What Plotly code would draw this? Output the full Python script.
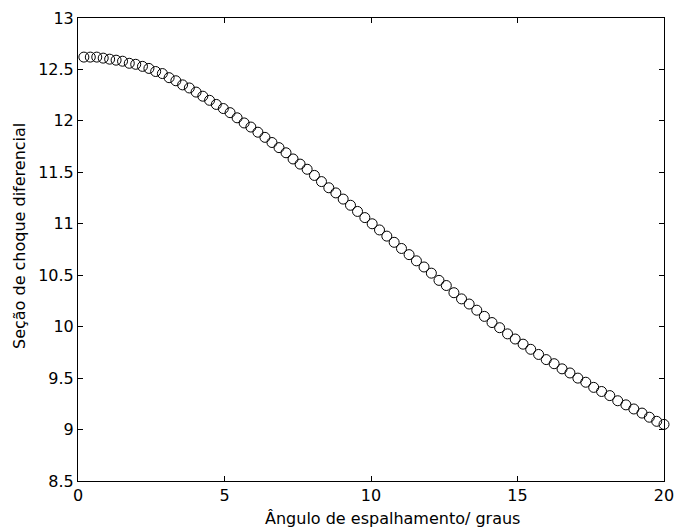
import plotly.graph_objects as go

angle_deg = [0.20, 0.42, 0.64, 0.86, 1.08, 1.30, 1.52, 1.75, 1.97, 2.20,
             2.42, 2.65, 2.88, 3.11, 3.34, 3.57, 3.80, 4.03, 4.26, 4.49,
             4.72, 4.96, 5.19, 5.43, 5.67, 5.90, 6.14, 6.38, 6.62, 6.86,
             7.10, 7.34, 7.58, 7.82, 8.07, 8.31, 8.56, 8.80, 9.05, 9.30,
             9.54, 9.79, 10.04, 10.29, 10.54, 10.79, 11.04, 11.30, 11.55, 11.81,
             12.06, 12.32, 12.57, 12.83, 13.09, 13.35, 13.61, 13.87, 14.13, 14.39,
             14.66, 14.92, 15.19, 15.45, 15.72, 15.98, 16.25, 16.52, 16.79, 17.06,
             17.33, 17.60, 17.87, 18.15, 18.42, 18.70, 18.97, 19.25, 19.50, 19.75,
             20.00]

cross_section = [12.62, 12.62, 12.62, 12.61, 12.60, 12.59, 12.58, 12.56, 12.55, 12.53,
                 12.51, 12.48, 12.46, 12.42, 12.39, 12.35, 12.32, 12.28, 12.24, 12.20,
                 12.16, 12.12, 12.08, 12.03, 11.98, 11.94, 11.89, 11.84, 11.79, 11.74,
                 11.69, 11.63, 11.58, 11.53, 11.47, 11.41, 11.35, 11.30, 11.24, 11.18,
                 11.12, 11.06, 11.00, 10.94, 10.88, 10.82, 10.76, 10.70, 10.64, 10.58,
                 10.52, 10.45, 10.40, 10.33, 10.27, 10.22, 10.16, 10.10, 10.04, 9.99,
                 9.93, 9.88, 9.83, 9.78, 9.73, 9.68, 9.64, 9.59, 9.55, 9.50,
                 9.46, 9.41, 9.37, 9.33, 9.28, 9.24, 9.20, 9.16, 9.12, 9.08,
                 9.05]

x_ticks = [0, 5, 10, 15, 20]
y_ticks = [8.5, 9, 9.5, 10, 10.5, 11, 11.5, 12, 12.5, 13]
y_tick_text = ["8.5", "9", "9.5", "10", "10.5", "11", "11.5", "12", "12.5", "13"]

x_title = "Ângulo de espalhamento/ graus"
y_title = "Seção de choque diferencial"

font_family = "DejaVu Sans, Verdana, sans-serif"
font_size = 16

fig = go.Figure()
fig.add_trace(go.Scatter(
    x=angle_deg, y=cross_section, mode="markers",
    marker=dict(symbol="circle-open", size=10, color="black", line=dict(width=1)),
    showlegend=False, cliponaxis=False,
))

axis_common = dict(
    showgrid=False, zeroline=False, showline=True, linecolor="black", linewidth=1,
    mirror="ticks", ticks="inside", ticklen=5, tickwidth=1, tickcolor="black",
    automargin=False, ticklabeloverflow="allow",
    tickfont=dict(family=font_family, size=font_size, color="black"),
)

# plot area in pixels: x 78..664, y 18..481
L, R, T, B = 78, 664, 18, 481
W, H = 677, 529

def px_to_paper_x(px):
    return (px - L) / (R - L)

def px_to_paper_y(py):
    return (B - py) / (B - T)

fig.update_layout(
    width=W, height=H,
    margin=dict(l=L, r=W - R, t=T, b=H - B),
    paper_bgcolor="white", plot_bgcolor="white",
    font=dict(family=font_family, size=font_size, color="black"),
    xaxis=dict(range=[0, 20], tickvals=x_ticks, ticktext=[str(v) for v in x_ticks],
               **axis_common),
    yaxis=dict(range=[8.5, 13], tickvals=y_ticks, ticktext=y_tick_text,
               **axis_common),
    annotations=[
        dict(text=x_title, xref="paper", yref="paper",
             x=px_to_paper_x(392), y=px_to_paper_y(518),
             xanchor="center", yanchor="middle", showarrow=False,
             font=dict(family=font_family, size=font_size, color="black")),
        dict(text=y_title, xref="paper", yref="paper", textangle=-90,
             x=px_to_paper_x(19), y=px_to_paper_y(236),
             xanchor="center", yanchor="middle", showarrow=False,
             font=dict(family=font_family, size=font_size, color="black")),
    ],
)

fig.write_html("out.html")
